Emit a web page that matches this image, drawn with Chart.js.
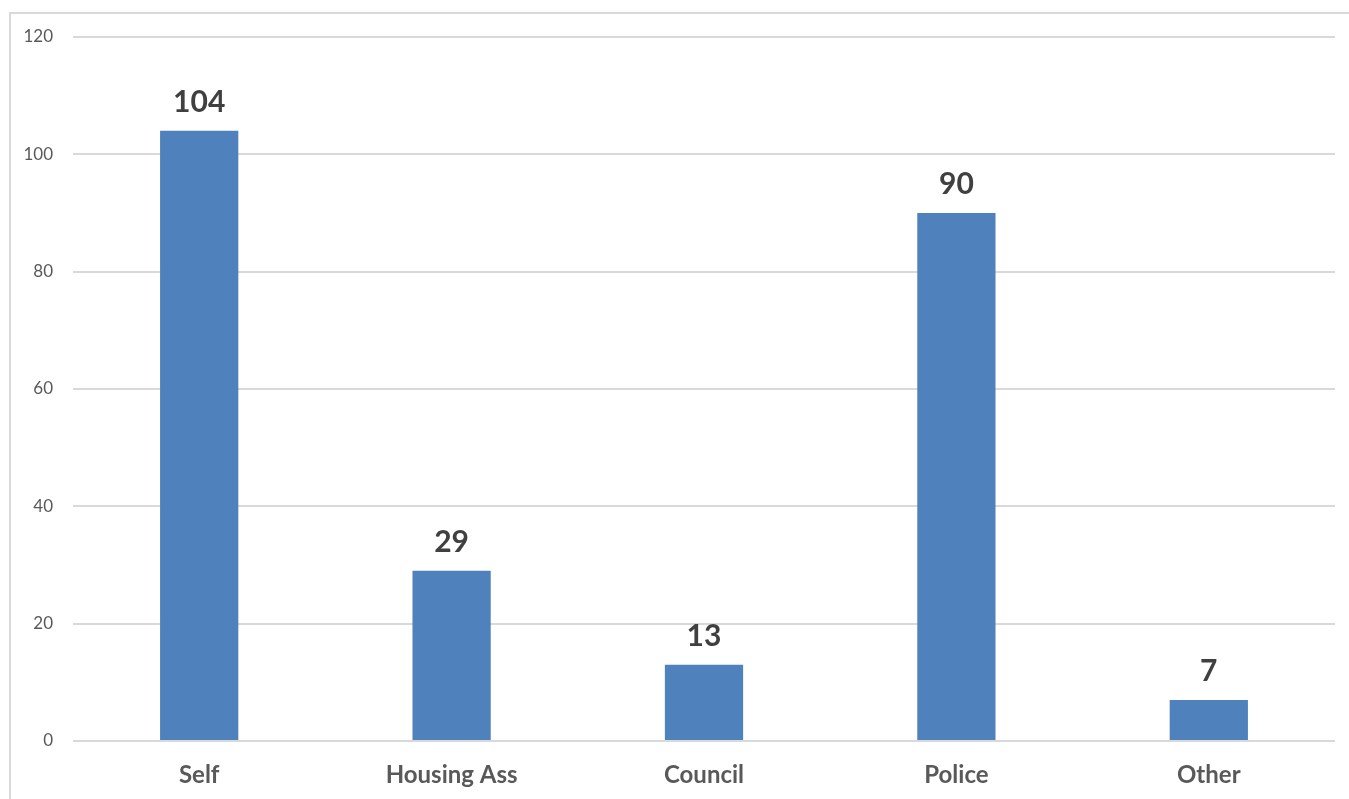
<!DOCTYPE html>
<html>
<head>
<meta charset="utf-8">
<script src="https://cdn.jsdelivr.net/npm/chart.js@4"></script>
<style>
  html, body { margin: 0; padding: 0; background: #fff; overflow: hidden; }
  #frame { position: absolute; left: 9px; top: 12px; width: 1400px; height: 850px; border: 2px solid #d9d9d9; }
  #wrap { position: absolute; left: 0; top: 0; width: 1349px; height: 799px; }
</style>
</head>
<body>
<div id="frame"></div>
<div id="wrap"><canvas id="myChart"></canvas></div>
<script>
const categories = ['Self', 'Housing Ass', 'Council', 'Police', 'Other'];
const referrals = [104, 29, 13, 90, 7];
const yTicks = [0, 20, 40, 60, 80, 100, 120];

// draws the numbers above each bar
const valueLabels = {
  id: 'valueLabels',
  afterDatasetsDraw(chart) {
    const ctx = chart.ctx;
    const meta = chart.getDatasetMeta(0);
    ctx.save();
    ctx.font = 'bold 30px Lato';
    ctx.fillStyle = '#404040';
    ctx.textAlign = 'center';
    ctx.textBaseline = 'alphabetic';
    meta.data.forEach((bar, i) => {
      ctx.fillText(referrals[i], bar.x, bar.y - 19);
    });
    ctx.restore();
  }
};

document.addEventListener('DOMContentLoaded', () => {
  const ctx = document.getElementById('myChart').getContext('2d');

  new Chart(ctx, {
    type: 'bar',
    data: {
      labels: categories,
      datasets: [{
        data: referrals,
        backgroundColor: '#4f81bd',
        borderWidth: 0,
        categoryPercentage: 1,
        barPercentage: 0.31
      }]
    },
    options: {
      responsive: true,
      maintainAspectRatio: false,
      animation: false,
      layout: { padding: { top: 37, right: 14, left: 0, bottom: 0 } },
      plugins: {
        legend: { display: false },
        tooltip: { enabled: false }
      },
      scales: {
        x: {
          grid: { display: false, drawTicks: false },
          border: { display: false },
          ticks: {
            padding: 20,
            color: '#595959',
            font: { family: 'Lato', size: 24, weight: 'bold' }
          },
          afterFit(scale) { scale.height = 58; }
        },
        y: {
          min: 0,
          max: 120,
          afterBuildTicks(scale) { scale.ticks = yTicks.map(v => ({ value: v })); },
          grid: { color: '#d9d9d9', lineWidth: 2, drawTicks: false },
          border: { display: false },
          ticks: {
            padding: 20,
            color: '#595959',
            font: { family: 'Lato', size: 17 }
          },
          afterFit(scale) { scale.width = 73; }
        }
      }
    },
    plugins: [valueLabels]
  });
});
</script>
</body>
</html>
